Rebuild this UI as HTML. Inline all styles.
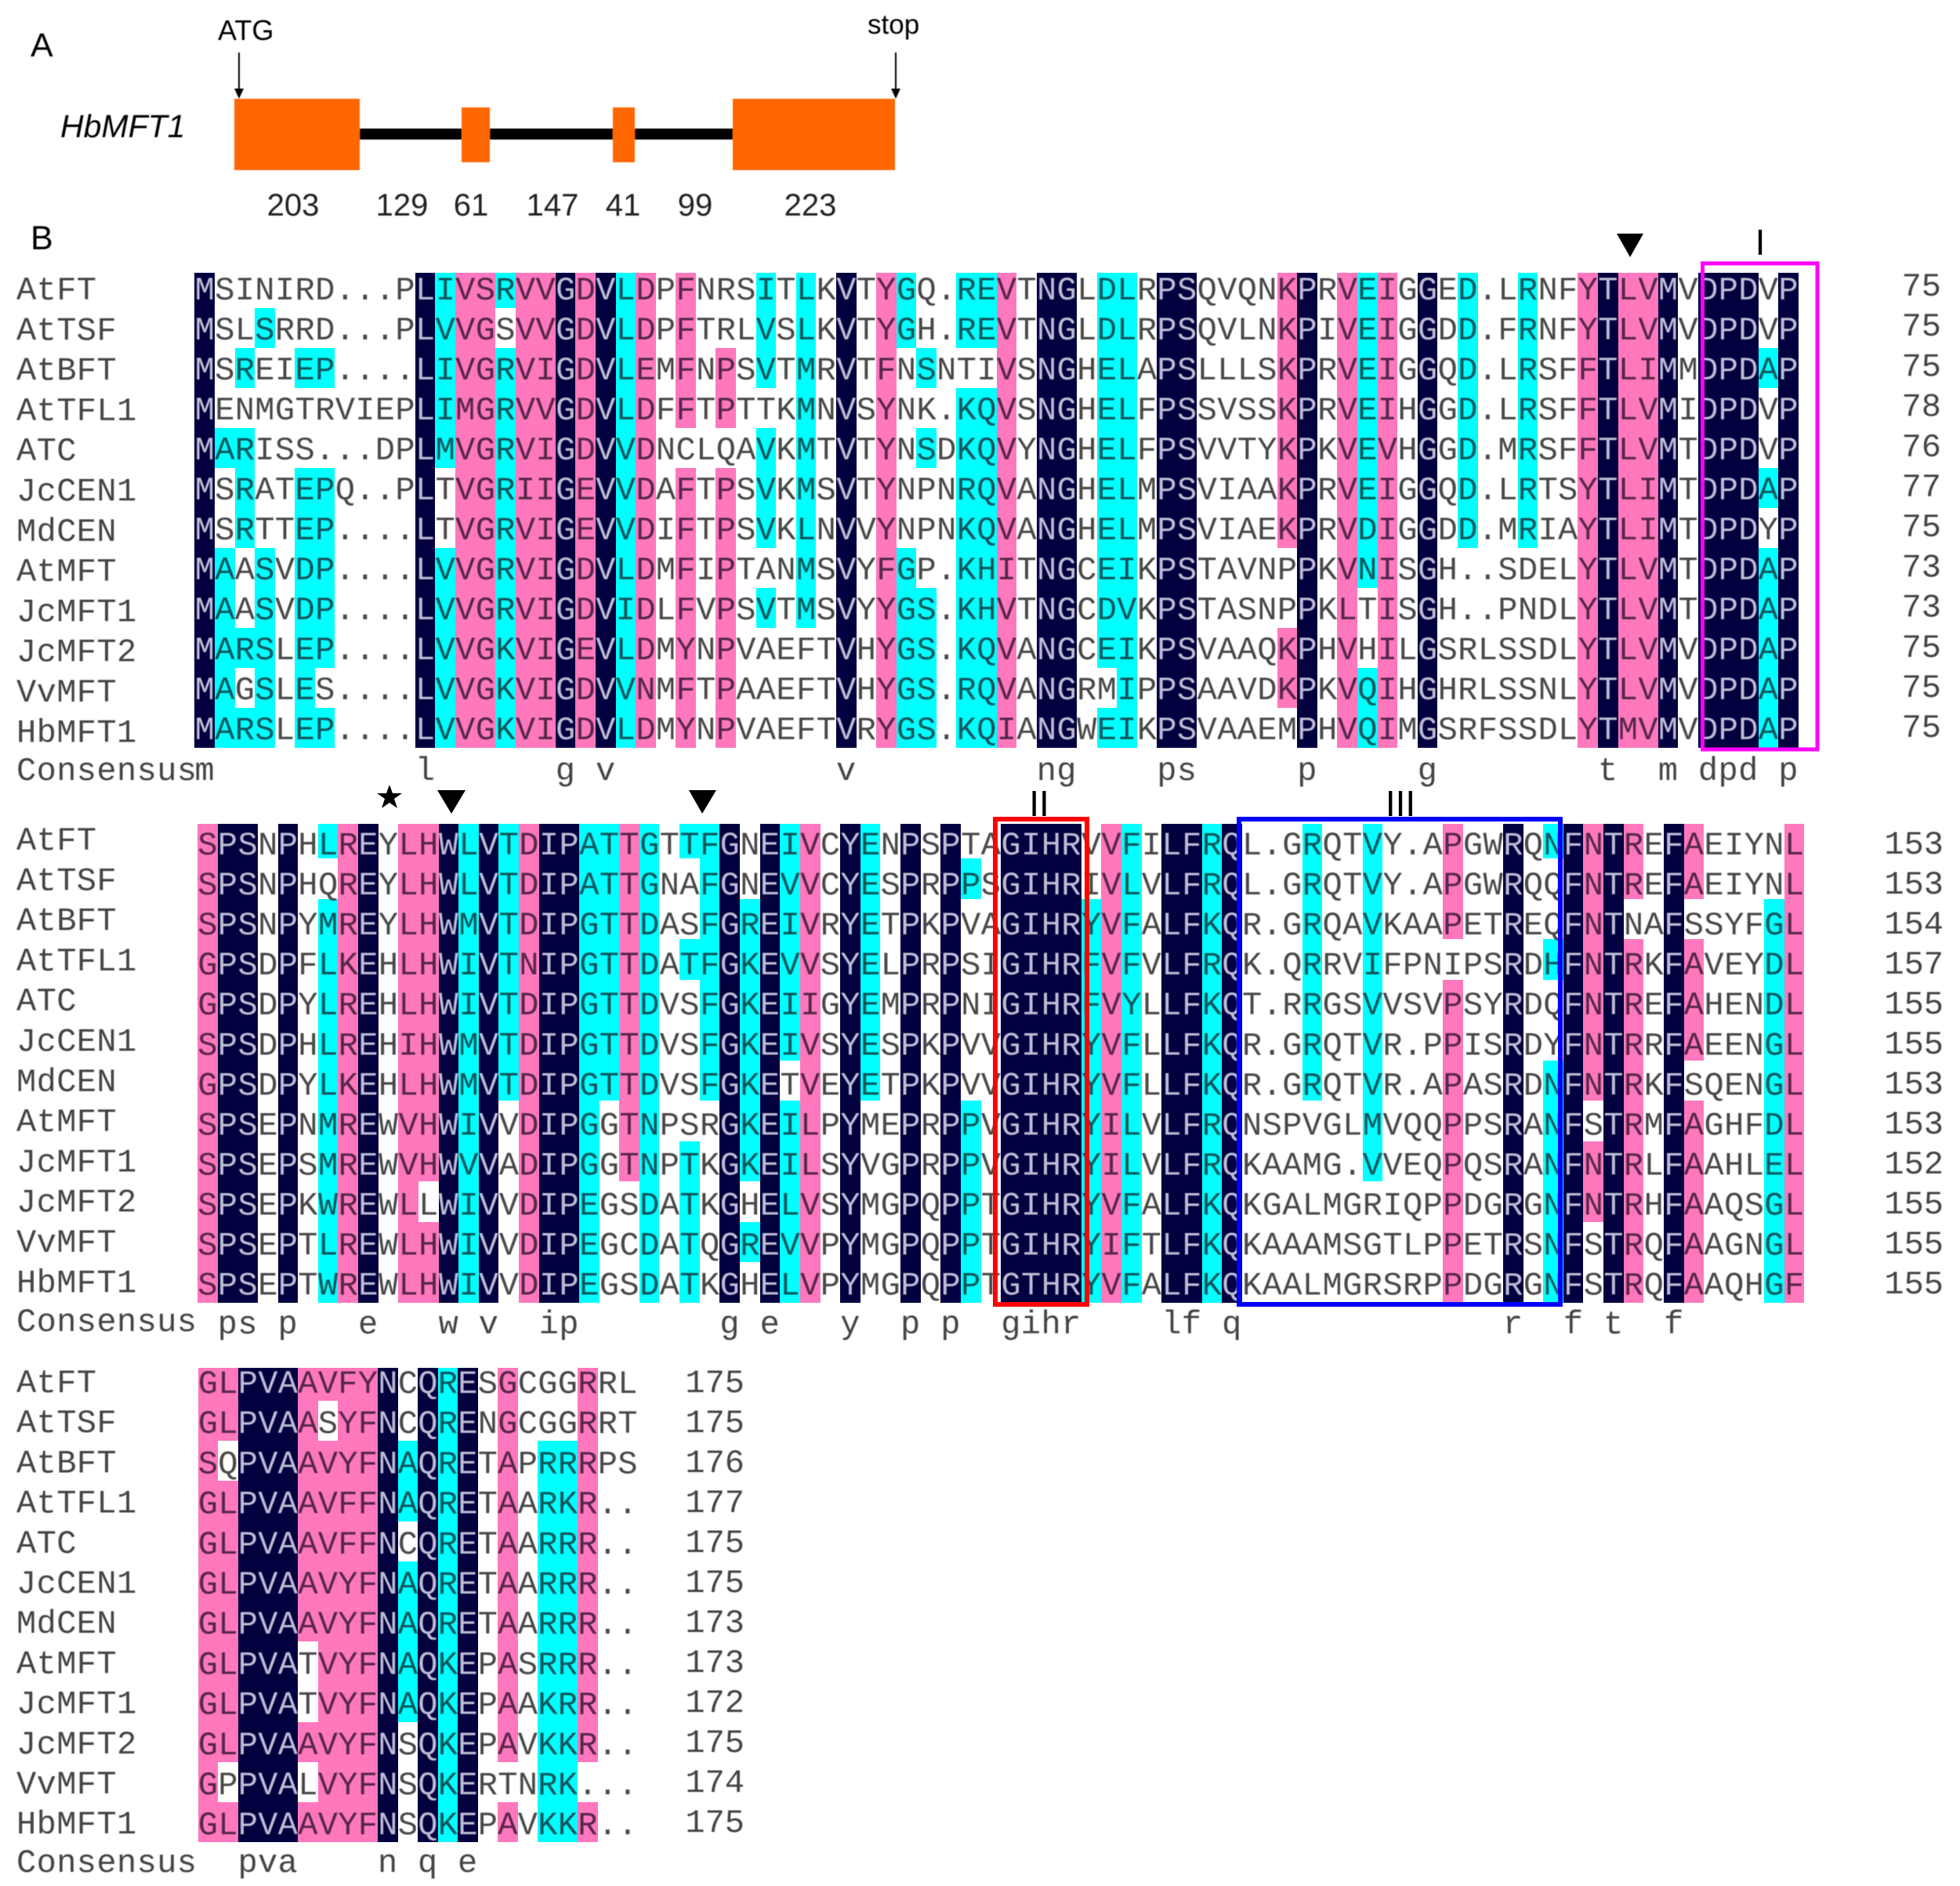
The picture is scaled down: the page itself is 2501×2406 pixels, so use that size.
<!DOCTYPE html>
<html lang="en">
<head>
<meta charset="utf-8">
<title>HbMFT1 gene structure and alignment</title>
<style>
html,body{margin:0;padding:0;background:#fff;}
svg{display:block;}
.mono{font-family:"Liberation Mono","DejaVu Sans Mono",monospace;font-size:42px;}
.sans{font-family:"Liberation Sans",Arial,sans-serif;}
</style>
</head>
<body>
<svg id="fig" xmlns="http://www.w3.org/2000/svg" width="2501" height="2406" viewBox="0 0 2501 2406">
  <defs>
    <filter id="soft" x="-2%" y="-2%" width="104%" height="104%"><feGaussianBlur stdDeviation="0.6"/></filter>
  </defs>
  <rect width="2501" height="2406" fill="#fff"/>
  <g id="panelA" class="sans" fill="#000" filter="url(#soft)">
    <text x="39" y="72" font-size="43">A</text>
    <text x="278" y="51" font-size="36">ATG</text>
    <text x="1107" y="43" font-size="35">stop</text>
    <line x1="305" y1="67" x2="305" y2="115" stroke="#000" stroke-width="2"/>
    <polygon points="299,113 311,113 305,126"/>
    <line x1="1143" y1="67" x2="1143" y2="115" stroke="#000" stroke-width="2"/>
    <polygon points="1137,113 1149,113 1143,126"/>
    <text x="77" y="175" font-size="41" font-style="italic">HbMFT1</text>
    <rect x="459" y="164" width="476" height="14" fill="#000"/>
    <rect x="299" y="126" width="160" height="91" fill="#ff6600"/>
    <rect x="589" y="137" width="36" height="70" fill="#ff6600"/>
    <rect x="782" y="137" width="28" height="70" fill="#ff6600"/>
    <rect x="935" y="126" width="207" height="91" fill="#ff6600"/>
    <g font-size="40" text-anchor="middle" fill="#222">
      <text x="374" y="275">203</text>
      <text x="513" y="275">129</text>
      <text x="601" y="275">61</text>
      <text x="705" y="275">147</text>
      <text x="795" y="275">41</text>
      <text x="887" y="275">99</text>
      <text x="1034" y="275">223</text>
    </g>
    <text x="39" y="318" font-size="43">B</text>
  </g>
  <g id="cells" shape-rendering="crispEdges"></g>
  <g id="texts" class="mono" filter="url(#soft)"></g>
  <g id="marks" class="sans">
    <polygon points="2063,298 2097,298 2080,328" fill="#000"/>
    <polygon points="558,1008 594,1008 576,1038" fill="#000"/>
    <polygon points="879,1008 914,1008 896,1038" fill="#000"/>
    <polygon points="497,1001 501,1012 513,1012 503,1019 507,1031 497,1024 487,1031 491,1019 481,1012 493,1012" fill="#000"/>
    <text x="2246" y="325" font-size="46" text-anchor="middle">I</text>
    <text x="1326" y="1041" font-size="46" text-anchor="middle">II</text>
    <text x="1787" y="1041" font-size="46" text-anchor="middle">III</text>
    <rect x="2172.5" y="336" width="146.5" height="620" fill="none" stroke="#ff00ff" stroke-width="5"/>
    <rect x="1270" y="1045" width="117" height="619" fill="none" stroke="#ff0000" stroke-width="6"/>
    <rect x="1581" y="1045" width="410" height="619" fill="none" stroke="#0000ff" stroke-width="6"/>
  </g>
</svg>
<script>
const speciesNames = ["AtFT","AtTSF","AtBFT","AtTFL1","ATC","JcCEN1","MdCEN","AtMFT","JcMFT1","JcMFT2","VvMFT","HbMFT1"];

const block1Sequences = [
"MSINIRD...PLIVSRVVGDVLDPFNRSITLKVTYGQ.REVTNGLDLRPSQVQNKPRVEIGGED.LRNFYTLVMVDPDVP",
"MSLSRRD...PLVVGSVVGDVLDPFTRLVSLKVTYGH.REVTNGLDLRPSQVLNKPIVEIGGDD.FRNFYTLVMVDPDVP",
"MSREIEP....LIVGRVIGDVLEMFNPSVTMRVTFNSNTIVSNGHELAPSLLLSKPRVEIGGQD.LRSFFTLIMMDPDAP",
"MENMGTRVIEPLIMGRVVGDVLDFFTPTTKMNVSYNK.KQVSNGHELFPSSVSSKPRVEIHGGD.LRSFFTLVMIDPDVP",
"MARISS...DPLMVGRVIGDVVDNCLQAVKMTVTYNSDKQVYNGHELFPSVVTYKPKVEVHGGD.MRSFFTLVMTDPDVP",
"MSRATEPQ..PLTVGRIIGEVVDAFTPSVKMSVTYNPNRQVANGHELMPSVIAAKPRVEIGGQD.LRTSYTLIMTDPDAP",
"MSRTTEP....LTVGRVIGEVVDIFTPSVKLNVVYNPNKQVANGHELMPSVIAEKPRVDIGGDD.MRIAYTLIMTDPDYP",
"MAASVDP....LVVGRVIGDVLDMFIPTANMSVYFGP.KHITNGCEIKPSTAVNPPKVNISGH..SDELYTLVMTDPDAP",
"MAASVDP....LVVGRVIGDVIDLFVPSVTMSVYYGS.KHVTNGCDVKPSTASNPPKLTISGH..PNDLYTLVMTDPDAP",
"MARSLEP....LVVGKVIGEVLDMYNPVAEFTVHYGS.KQVANGCEIKPSVAAQKPHVHILGSRLSSDLYTLVMVDPDAP",
"MAGSLES....LVVGKVIGDVVNMFTPAAEFTVHYGS.RQVANGRMIPPSAAVDKPKVQIHGHRLSSNLYTLVMVDPDAP",
"MARSLEP....LVVGKVIGDVLDMYNPVAEFTVRYGS.KQIANGWEIKPSVAAEMPHVQIMGSRFSSDLYTMVMVDPDAP"];
const block2Sequences = [
"SPSNPHLREYLHWLVTDIPATTGTTFGNEIVCYENPSPTAGIHRVVFILFRQL.GRQTVY.APGWRQNFNTREFAEIYNL",
"SPSNPHQREYLHWLVTDIPATTGNAFGNEVVCYESPRPPSGIHRIVLVLFRQL.GRQTVY.APGWRQQFNTREFAEIYNL",
"SPSNPYMREYLHWMVTDIPGTTDASFGREIVRYETPKPVAGIHRYVFALFKQR.GRQAVKAAPETREQFNTNAFSSYFGL",
"GPSDPFLKEHLHWIVTNIPGTTDATFGKEVVSYELPRPSIGIHRFVFVLFRQK.QRRVIFPNIPSRDHFNTRKFAVEYDL",
"GPSDPYLREHLHWIVTDIPGTTDVSFGKEIIGYEMPRPNIGIHRFVYLLFKQT.RRGSVVSVPSYRDQFNTREFAHENDL",
"SPSDPHLREHIHWMVTDIPGTTDVSFGKEIVSYESPKPVVGIHRYVFLLFKQR.GRQTVR.PPISRDYFNTRRFAEENGL",
"GPSDPYLKEHLHWMVTDIPGTTDVSFGKETVEYETPKPVVGIHRYVFLLFKQR.GRQTVR.APASRDNFNTRKFSQENGL",
"SPSEPNMREWVHWIVVDIPGGTNPSRGKEILPYMEPRPPVGIHRYILVLFRQNSPVGLMVQQPPSRANFSTRMFAGHFDL",
"SPSEPSMREWVHWVVADIPGGTNPTKGKEILSYVGPRPPVGIHRYILVLFRQKAAMG.VVEQPQSRANFNTRLFAAHLEL",
"SPSEPKWREWLLWIVVDIPEGSDATKGHELVSYMGPQPPTGIHRYVFALFKQKGALMGRIQPPDGRGNFNTRHFAAQSGL",
"SPSEPTLREWLHWIVVDIPEGCDATQGREVVPYMGPQPPTGIHRYIFTLFKQKAAAMSGTLPPETRSNFSTRQFAAGNGL",
"SPSEPTWREWLHWIVVDIPEGSDATKGHELVPYMGPQPPTGTHRYVFALFKQKAALMGRSRPPDGRGNFSTRQFAAQHGF"];
const block3Sequences = [
"GLPVAAVFYNCQRESGCGGRRL",
"GLPVAASYFNCQRENGCGGRRT",
"SQPVAAVYFNAQRETAPRRRPS",
"GLPVAAVFFNAQRETAARKR..",
"GLPVAAVFFNCQRETAARRR..",
"GLPVAAVYFNAQRETAARRR..",
"GLPVAAVYFNAQRETAARRR..",
"GLPVATVYFNAQKEPASRRR..",
"GLPVATVYFNAQKEPAAKRR..",
"GLPVAAVYFNSQKEPAVKKR..",
"GPPVALVYFNSQKERTNRK...",
"GLPVAAVYFNSQKEPAVKKR.."];

// Conservation class per alignment column, one letter per species (a single letter = all species).
// d = identical, p = high, c = medium, w = none
const block1Columns = "d wwwwcwwccccc wwcwcccwwcwc wcwwwwwccccc w wwcwwccccccc wwcwwcccccwc w w w w d cccccwwccccc p p cwcccccccccc p p d p d c p w ppppwppppppp w wwppwppppppp w cccwcccwcwww w cccccccccwww w d w p ccwwwwwccccc wwcwcwwwcccc w ccwccccccccc ccwccccccccc p w d d w ccccccccccwc c w d d w w w w pppppppwwppw d w p ccccccccwwcc p w d w cccccccwwwww w w cccccccwwwww w w p d p p d w d d d wwcwwcwccccc d".split(" ");
const block2Columns = "p d d w d w cwcccccccccc p d w p pppppppppwpp d c d cccccccwwwww p d d c cccccccwwwww pppppppppwww c w cwwcwwwwcccc cccccccwwwww d wwcccccccwcw d ccccccwccccc p w d cccccccwwwww w d w d wcwwwwwccccc w d d d d wwcccccccccc p c w d d c d w w w cccccccwwwww w w cccccccccwww w w w pppwpppppppp w w d w cwwcwwcccccc d pppppppwppww d ppwppppppppp w d ppwpppwppppp w w w wwcccccccccc p".split(" ");
const block3Columns = "p ppwpppppppwp d d d pppppppwwpwp pwpppppppppp p p d wwccwccccwww d c d w ppppppppppwp w wwcccccccccc wwcccccccccc ppppppppppwp w w".split(" ");

const block1Counts = [75,75,75,78,76,77,75,73,73,75,75,75];
const block2Counts = [153,153,154,157,155,155,153,153,152,155,155,155];
const block3Counts = [175,175,176,177,175,175,173,173,172,175,174,175];

const block1Consensus = [[0,"m"],[11,"l"],[18,"g"],[20,"v"],[32,"v"],[42,"ng"],[48,"ps"],[55,"p"],[61,"g"],[70,"t"],[73,"m"],[75,"dpd"],[79,"p"]];
const block2Consensus = [[1,"ps"],[4,"p"],[8,"e"],[12,"w"],[14,"v"],[17,"ip"],[26,"g"],[28,"e"],[32,"y"],[35,"p"],[37,"p"],[40,"gihr"],[48,"lf"],[51,"q"],[65,"r"],[68,"f"],[70,"t"],[73,"f"]];
const block3Consensus = [[2,"pva"],[9,"n"],[11,"q"],[13,"e"]];

const NS = "http://www.w3.org/2000/svg";
const cellFill = {d:"#03003f", p:"#ff78bd", c:"#00ffff"};
const textFill = {d:"#bcbcd4", p:"#56284a", c:"#0f565c", w:"#4a4a4a"};
const cellsLayer = document.getElementById("cells");
const textsLayer = document.getElementById("texts");

function makeEl(tag, attrs, parent, content) {
  const el = document.createElementNS(NS, tag);
  for (const k in attrs) el.setAttribute(k, attrs[k]);
  if (content !== undefined) el.textContent = content;
  parent.appendChild(el);
  return el;
}

function drawBlock(layout, sequences, columns, counts, consensus) {
  const xCol = c => layout.x0 + c * layout.cw;
  const yEdge = r => r === 0 ? layout.cellTop : layout.rowOneTop + (r - 1) * layout.cellPitch;
  const yResidue = r => layout.residueBase + r * layout.residuePitch;
  const yLabel = r => layout.labelBase + r * layout.labelPitch;
  const yCount = r => layout.countBase + r * layout.countPitch;
  const classOf = (r, c) => columns[c].length === 1 ? columns[c] : columns[c][r];

  sequences.forEach((seq, r) => {
    const label = speciesNames[r];
    const labelXs = Array.from(label, (_, i) => (21 + i * 25.6).toFixed(1)).join(" ");
    const labelEl = makeEl("text", {x: labelXs, y: yLabel(r), fill: "#444"}, textsLayer, label);
    
    

    for (let c = 0; c < seq.length; c++) {
      const cls = classOf(r, c);
      if (cls !== "w") {
        const top = Math.round(yEdge(r));
        const bottom = Math.round(yEdge(r + 1));
        const left = Math.round(xCol(c));
        const right = Math.round(xCol(c + 1));
        const cell = makeEl("rect", {x: left, y: top, width: right - left, height: bottom - top, fill: cellFill[cls]}, cellsLayer);
        
        
      }
      const ch = makeEl("text", {x: (xCol(c) + 0.2).toFixed(1), y: yResidue(r).toFixed(1), fill: textFill[cls]}, textsLayer, seq[c]);
      
      
    }

    const countEl = makeEl("text", {x: layout.countX, y: yCount(r).toFixed(1), "text-anchor": "end", fill: "#444"}, textsLayer, String(counts[r]));
    
    
  });

  const consXs = Array.from("Consensus", (_, i) => (21 + i * 25.6).toFixed(1)).join(" ");
  const consLabel = makeEl("text", {x: consXs, y: layout.consLabelBase, fill: "#444"}, textsLayer, "Consensus");
  
  

  consensus.forEach(([col, word]) => {
    const xs = Array.from(word, (_, i) => xCol(col + i).toFixed(1)).join(" ");
    const t = makeEl("text", {x: xs, y: layout.consBase, fill: "#444"}, textsLayer, word);
    
    
  });
}

drawBlock({x0:248.4, cw:25.58, cellTop:348, rowOneTop:393, cellPitch:51, residueBase:382, residuePitch:51, labelBase:382, labelPitch:51.3, countBase:377, countPitch:51.2, countX:2477, consBase:995, consLabelBase:995},
  block1Sequences, block1Columns, block1Counts, block1Consensus);
drawBlock({x0:252, cw:25.63, cellTop:1051, rowOneTop:1095, cellPitch:51.5, residueBase:1090, residuePitch:51.06, labelBase:1084, labelPitch:51.3, countBase:1089, countPitch:51, countX:2480, consBase:1701, consLabelBase:1698},
  block2Sequences, block2Columns, block2Counts, block2Consensus);
drawBlock({x0:252.5, cw:25.5, cellTop:1745, rowOneTop:1787, cellPitch:51.2, residueBase:1777, residuePitch:51.2, labelBase:1776, labelPitch:51.2, countBase:1776, countPitch:51, countX:950, consBase:2388, consLabelBase:2388},
  block3Sequences, block3Columns, block3Counts, block3Consensus);
</script>
</body>
</html>
